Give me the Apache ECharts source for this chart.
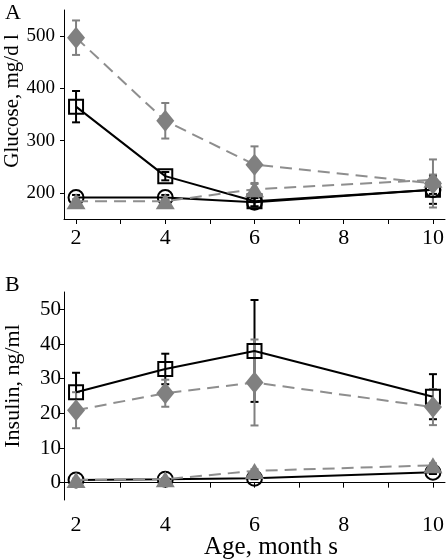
<!DOCTYPE html>
<html><head><meta charset="utf-8">
<script src="https://cdn.jsdelivr.net/npm/echarts@6/dist/echarts.min.js"></script>
<style>html,body{margin:0;padding:0;background:#fff}#c{width:447px;height:559px}</style>
</head><body><div id="c"></div>
<script>
const months = [2, 4, 6, 10];
const xTicks = [2, 3, 4, 5, 6, 7, 8, 9, 10];
const xLabels = [2, 4, 6, 8, 10];
const glucoseTicks = [200, 300, 400, 500];
const insulinTicks = [0, 10, 20, 30, 40, 50];

const glucoseSquare = [365, 232, 184, 206];
const glucoseSquareErr = [30, 8, 10, 27];
const glucoseCircle = [191, 191, 182, 206];
const glucoseCircleErr = [5, 5, 8, 8];
const glucoseDiamond = [497, 338, 254, 218];
const glucoseDiamondErr = [33, 34, 35, 46];
const glucoseTriangle = [184, 184, 207, 225];
const glucoseTriangleErr = [4, 4, 10, 10];

const insulinSquare = [26.1, 32.8, 38.0, 24.8];
const insulinSquareErr = [5.6, 4.4, 14.7, 6.5];
const insulinCircle = [0.8, 1.0, 1.3, 3.0];
const insulinCircleErr = [0.3, 0.3, 0.3, 0.5];
const insulinDiamond = [20.9, 25.8, 28.9, 21.8];
const insulinDiamondErr = [5.2, 3.9, 12.4, 5.2];
const insulinTriangle = [0.8, 1.0, 3.4, 5.0];
const insulinTriangleErr = [0.3, 0.3, 0.5, 0.6];

const FONT = 'Liberation Serif';
const BLACK = '#000';
const GRAY = '#808080';
const GRAYLINE = '#8e8e8e';

function pts(vals) { return months.map((m, i) => [m, vals[i]]); }
function errPts(vals, errs) { return months.map((m, i) => [m, vals[i] - errs[i], vals[i] + errs[i]]); }

function errSeries(idx, vals, errs, color) {
  return {
    type: 'custom', xAxisIndex: idx, yAxisIndex: idx,
    data: errPts(vals, errs), encode: { x: 0, y: [1, 2] }, z: 3,
    renderItem: function (params, api) {
      const x = api.value(0), lo = api.value(1), hi = api.value(2);
      const a = api.coord([x, hi]), b = api.coord([x, lo]);
      const w = 4;
      const st = { stroke: color, lineWidth: 2 };
      return { type: 'group', children: [
        { type: 'line', shape: { x1: a[0], y1: a[1], x2: b[0], y2: b[1] }, style: st },
        { type: 'line', shape: { x1: a[0] - w, y1: a[1], x2: a[0] + w, y2: a[1] }, style: st },
        { type: 'line', shape: { x1: b[0] - w, y1: b[1], x2: b[0] + w, y2: b[1] }, style: st }
      ]};
    }
  };
}

function lineSeries(idx, vals, kind) {
  const base = { type: 'line', xAxisIndex: idx, yAxisIndex: idx, data: pts(vals), showSymbol: true, z: 4 };
  if (kind === 'square') return Object.assign(base, { symbol: 'rect', symbolSize: 14,
    lineStyle: { color: BLACK, width: 2 }, itemStyle: { color: 'rgba(0,0,0,0)', borderColor: BLACK, borderWidth: 2 } });
  if (kind === 'circle') return Object.assign(base, { symbol: 'circle', symbolSize: 15,
    lineStyle: { color: BLACK, width: 2 }, itemStyle: { color: 'rgba(0,0,0,0)', borderColor: BLACK, borderWidth: 2 } });
  if (kind === 'diamond') return Object.assign(base, { symbol: 'diamond', symbolSize: [18, 22], z: 5,
    lineStyle: { color: GRAYLINE, width: 2, type: [12, 7] }, itemStyle: { color: GRAY, borderWidth: 0 } });
  return Object.assign(base, { symbol: 'triangle', symbolSize: [19, 16], z: 5,
    lineStyle: { color: GRAYLINE, width: 2, type: [12, 7] }, itemStyle: { color: GRAY, borderWidth: 0 } });
}

function xAxis(idx, margin) {
  return {
    type: 'value', gridIndex: idx, min: 1.73, max: 10.27,
    axisLine: { show: true, lineStyle: { color: BLACK, width: 1 } },
    axisTick: { show: true, length: 5, lineStyle: { color: BLACK }, customValues: xTicks },
    axisLabel: { show: true, fontFamily: FONT, fontSize: 22, color: BLACK, margin: margin, customValues: xLabels },
    splitLine: { show: false }
  };
}
function yAxis(idx, min, max, ticks, fs, margin) {
  return {
    type: 'value', gridIndex: idx, min: min, max: max,
    axisLine: { show: true, lineStyle: { color: BLACK, width: 1 } },
    axisTick: { show: true, length: 4, lineStyle: { color: BLACK }, customValues: ticks },
    axisLabel: { show: true, fontFamily: FONT, fontSize: fs, color: BLACK, margin: margin, customValues: ticks },
    splitLine: { show: false }
  };
}

const chart = echarts.init(document.getElementById('c'), null, { renderer: 'canvas' });
chart.setOption({
  animation: false,
  backgroundColor: '#fff',
  grid: [
    { left: 64, top: 10, right: 2, height: 209 },
    { left: 64, top: 292, right: 2, height: 208 }
  ],
  xAxis: [xAxis(0, 8), xAxis(1, 14)],
  yAxis: [yAxis(0, 150, 550, glucoseTicks, 19, 9), yAxis(1, -5, 55, insulinTicks, 21, 3)],
  graphic: [
    { type: 'text', left: 5, top: 2, style: { text: 'A', fontFamily: FONT, fontSize: 22, fill: BLACK } },
    { type: 'text', left: 5, top: 274, style: { text: 'B', fontFamily: FONT, fontSize: 22, fill: BLACK } },
    { type: 'text', x: 12, y: 101, rotation: Math.PI / 2,
      style: { text: 'Glucose, mg/d l', fontFamily: FONT, fontSize: 21, fill: BLACK, align: 'center', verticalAlign: 'middle' } },
    { type: 'text', x: 13, y: 386, rotation: Math.PI / 2,
      style: { text: 'Insulin, ng/ml', fontFamily: FONT, fontSize: 22, fill: BLACK, align: 'center', verticalAlign: 'middle' } },
    { type: 'text', x: 271, y: 547,
      style: { text: 'Age, month s', fontFamily: FONT, fontSize: 25, fill: BLACK, align: 'center', verticalAlign: 'middle' } }
  ],
  series: [
    errSeries(0, glucoseCircle, glucoseCircleErr, BLACK),
    lineSeries(0, glucoseCircle, 'circle'),
    errSeries(0, glucoseSquare, glucoseSquareErr, BLACK),
    lineSeries(0, glucoseSquare, 'square'),
    errSeries(0, glucoseTriangle, glucoseTriangleErr, GRAY),
    lineSeries(0, glucoseTriangle, 'triangle'),
    errSeries(0, glucoseDiamond, glucoseDiamondErr, GRAY),
    lineSeries(0, glucoseDiamond, 'diamond'),
    errSeries(1, insulinCircle, insulinCircleErr, BLACK),
    lineSeries(1, insulinCircle, 'circle'),
    errSeries(1, insulinSquare, insulinSquareErr, BLACK),
    lineSeries(1, insulinSquare, 'square'),
    errSeries(1, insulinTriangle, insulinTriangleErr, GRAY),
    lineSeries(1, insulinTriangle, 'triangle'),
    errSeries(1, insulinDiamond, insulinDiamondErr, GRAY),
    lineSeries(1, insulinDiamond, 'diamond')
  ]
});
</script>
</body></html>
